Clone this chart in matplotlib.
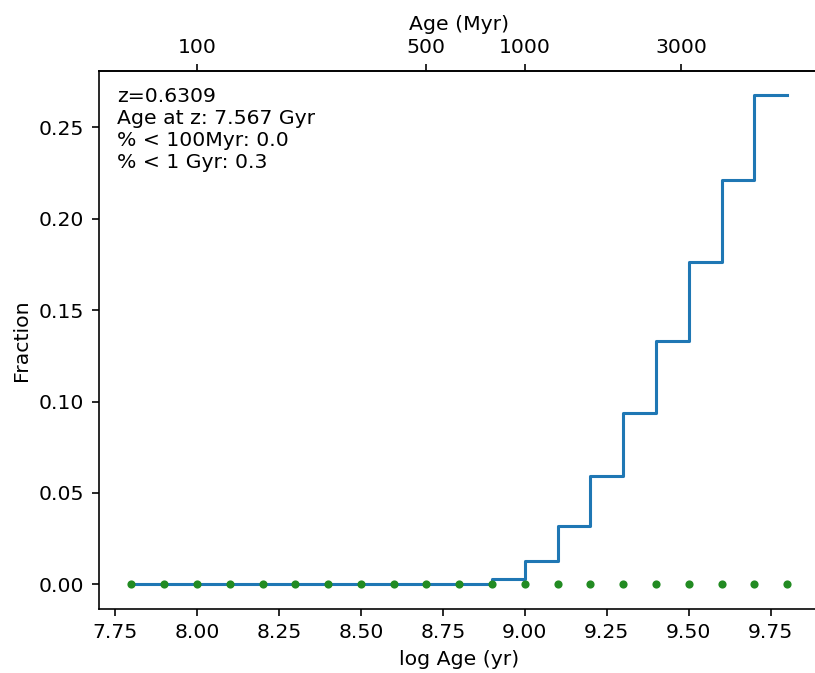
import matplotlib
matplotlib.use("Agg")
import matplotlib.pyplot as plt
import numpy as np

# log age bins (yr) and fraction of stellar mass formed in each
log_age = [7.8, 7.9, 8.0, 8.1, 8.2, 8.3, 8.4, 8.5, 8.6, 8.7, 8.8,
           8.9, 9.0, 9.1, 9.2, 9.3, 9.4, 9.5, 9.6, 9.7, 9.8]
fraction = [0.0, 0.0, 0.0, 0.0, 0.0, 0.0, 0.0, 0.0, 0.0, 0.0, 0.0,
            0.0027, 0.0125, 0.0318, 0.0594, 0.0937, 0.1332, 0.1763, 0.2215, 0.2675, 0.2675]
zero_level = [0.0] * len(log_age)

top_ticks = [100, 500, 1000, 3000]   # Myr

z = 0.6309
age_at_z = 7.567
frac_100myr = 0.0
frac_1gyr = 0.3

DPI = 147
fig = plt.figure(figsize=(815 / DPI, 673 / DPI), dpi=DPI)
ax = fig.add_axes([0.121, 0.0955, 0.885, 0.799])

ax.step(log_age, fraction, where='post', color='tab:blue', lw=1.5)
ax.plot(log_age, zero_level, '.', color='forestgreen')

ax.set_xlabel('log Age (yr)')
ax.set_ylabel('Fraction')

txt = ('z=%.4f\nAge at z: %.3f Gyr\n%% < 100Myr: %.1f\n%% < 1 Gyr: %.1f'
       % (z, age_at_z, frac_100myr, frac_1gyr))
ax.text(0.025, 0.97, txt, transform=ax.transAxes, va='top', ha='left')

# top axis in Myr
secax = ax.secondary_xaxis('top', functions=(lambda x: 10 ** x / 1e6,
                                             lambda m: np.log10(np.clip(m, 1e-9, None) * 1e6)))
secax.set_xticks(top_ticks)
secax.set_xticklabels([str(t) for t in top_ticks])
secax.minorticks_off()
secax.set_xlabel('Age (Myr)')

fig.savefig('out.png', dpi=DPI)
